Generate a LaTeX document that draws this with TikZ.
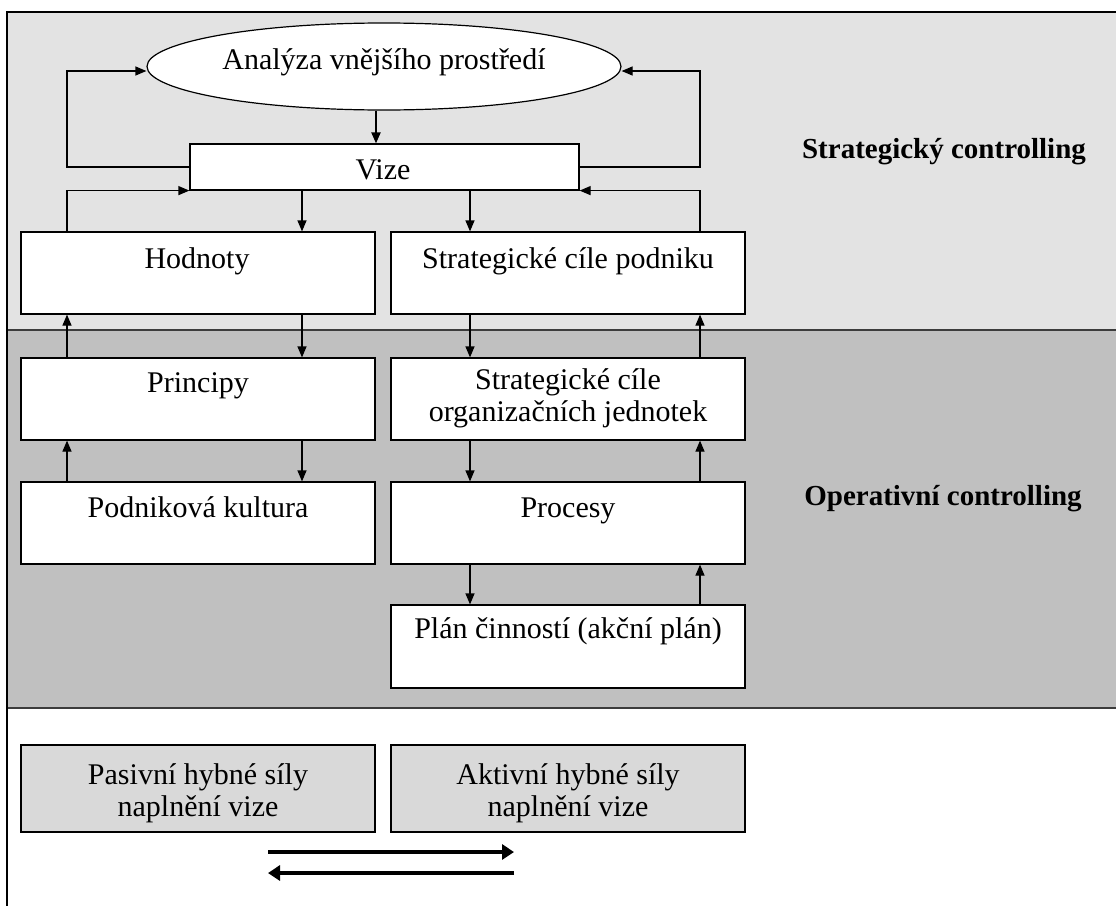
\documentclass[tikz,border=0pt]{standalone}
\usepackage{fontspec}
\setmainfont{Liberation Serif}
\usetikzlibrary{shapes.geometric,arrows.meta}
\definecolor{stratband}{HTML}{E3E3E3}
\definecolor{operband}{HTML}{C0C0C0}
\definecolor{forcefill}{HTML}{D9D9D9}
\definecolor{bandline}{HTML}{3C3C3C}

\begin{document}
\begin{tikzpicture}[x=1pt,y=-1pt,
  every node/.style={font=\fontsize{30}{31.5}\selectfont},
  box/.style={draw, fill=white, line width=1.2pt, minimum width=354pt,
    minimum height=82pt, inner sep=0pt},
  lbl/.style={anchor=base, inner sep=0pt},
  arr/.style={line width=1.2pt, -{Triangle[length=11pt,width=9pt]}},
  bigarr/.style={line width=4pt, -{Triangle[length=12pt,width=15pt]}},
  heading/.style={font=\fontsize{29}{31}\selectfont\bfseries}]
\useasboundingbox (0,0) rectangle (1116,905);

% background bands and frame
\fill[stratband] (7,12) rectangle (1120,330);
\fill[operband] (7,330) rectangle (1120,708);
\draw[bandline, line width=1.5pt] (7,330) -- (1120,330);
\draw[bandline, line width=1.5pt] (7,708) -- (1120,708);
\draw[line width=1.4pt] (7,910) -- (7,12) -- (1120,12);

% column positions of the vertical connectors
\coordinate (cL) at (67,0);
\coordinate (cM) at (302,0);
\coordinate (cN) at (470,0);
\coordinate (cR) at (700,0);
\coordinate (cE) at (376,0);

% strategic level
\node[ellipse, draw, fill=white, line width=1.2pt, minimum width=474pt,
  minimum height=87pt, inner sep=0pt] (ell) at (384,66.5) {};
\node[lbl] (ellt) at (384,69) {Analýza vnějšího prostředí};
\node[box, minimum width=389pt, minimum height=46pt] (vize) at (384.5,167) {};
\node[lbl] (vizet) at (383,179) {Vize};
\node[box] (hod) at (198,273) {};
\node[lbl] (hodt) at (197,268) {Hodnoty};
\node[box] (scp) at (568,273) {};
\node[lbl] (scpt) at (568,268) {Strategické cíle podniku};

% operative level
\node[box] (pri) at (198,399) {};
\node[lbl] (prit) at (198,392) {Principy};
\node[box] (sco) at (568,399) {};
\node[lbl, align=center] (scot) at (568,421) {Strategické cíle\\organizačních jednotek};
\node[box] (pod) at (198,523) {};
\node[lbl] (podt) at (198,517) {Podniková kultura};
\node[box] (pro) at (568,523) {};
\node[lbl] (prot) at (568,517) {Procesy};
\node[box, minimum height=83pt] (plan) at (568,646.5) {};
\node[lbl] (plant) at (568,638) {Plán činností (akční plán)};

% level headings
\node[heading] (hs) at (944,152) {Strategický controlling};
\node[heading] (ho) at (943,499) {Operativní controlling};

% driving forces
\node[box, fill=forcefill, minimum height=87pt] (pas) at (198,788.5) {};
\node[lbl, align=center] (past) at (198,816) {Pasivní hybné síly\\naplnění vize};
\node[box, fill=forcefill, minimum height=87pt] (akt) at (568,788.5) {};
\node[lbl, align=center] (aktt) at (568,816) {Aktivní hybné síly\\naplnění vize};
\coordinate (fwdS) at (268,852);
\coordinate (fwdE) at (514,852);
\coordinate (bwdS) at (514,873);
\coordinate (bwdE) at (268,873);
\draw[bigarr] (fwdS) -- (fwdE);
\draw[bigarr] (bwdS) -- (bwdE);

% connectors
\draw[arr, line width=2pt] (ell.south -| cE) -- (vize.north -| cE);
\draw[arr] (vize.west) -- (vize.west -| cL) |- ([yshift=-4.5pt]ell.west);
\draw[arr] (vize.east) -- (vize.east -| cR) |- ([yshift=-4.5pt]ell.east);
\draw[arr] (hod.north -| cL) |- (vize.south west);
\draw[arr] (scp.north -| cR) |- (vize.south east);
\draw[arr] (vize.south -| cM) -- (hod.north -| cM);
\draw[arr] (vize.south -| cN) -- (scp.north -| cN);
\draw[arr] (pri.north -| cL) -- (hod.south -| cL);
\draw[arr] (hod.south -| cM) -- (pri.north -| cM);
\draw[arr] (scp.south -| cN) -- (sco.north -| cN);
\draw[arr] (sco.north -| cR) -- (scp.south -| cR);
\draw[arr] (pod.north -| cL) -- (pri.south -| cL);
\draw[arr] (pri.south -| cM) -- (pod.north -| cM);
\draw[arr] (sco.south -| cN) -- (pro.north -| cN);
\draw[arr] (pro.north -| cR) -- (sco.south -| cR);
\draw[arr] (pro.south -| cN) -- (plan.north -| cN);
\draw[arr] (plan.north -| cR) -- (pro.south -| cR);
\end{tikzpicture}
\end{document}
